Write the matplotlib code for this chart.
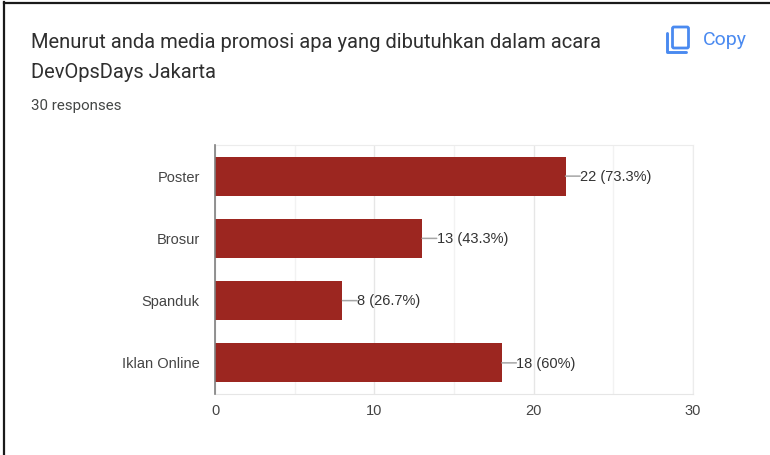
import matplotlib
matplotlib.use("Agg")
import matplotlib.pyplot as plt
from matplotlib.patches import FancyBboxPatch

categories = ["Poster", "Brosur", "Spanduk", "Iklan Online"]
counts = [22, 13, 8, 18]
value_labels = ["22 (73.3%)", "13 (43.3%)", "8 (26.7%)", "18 (60%)"]
major_ticks = [0, 10, 20, 30]
minor_ticks = [5, 15, 25]

W, H = 770, 455
fig = plt.figure(figsize=(W / 100, H / 100), dpi=100, facecolor="white")

# page layer in pixel coordinates: frame, title, copy icon
page = fig.add_axes([0, 0, 1, 1])
page.set_xlim(0, W)
page.set_ylim(H, 0)
page.axis("off")
page.plot([4, 4], [2, H], color="#1a1a1a", lw=1.6)
page.plot([4, W], [2.5, 2.5], color="#1a1a1a", lw=1.6)

title_col = "#2f2f2f"
page.text(31, 42.5, "Menurut anda media promosi apa yang dibutuhkan dalam acara",
          family="Roboto", fontsize=14.52, color=title_col, va="center", ha="left")
page.text(31, 72.5, "DevOpsDays Jakarta",
          family="Roboto", fontsize=14.52, color=title_col, va="center", ha="left")
page.text(31, 106, "30 responses", family="Roboto", fontsize=10.9,
          color="#444746", va="center", ha="left")

blue = "#4a8af0"
page.add_patch(FancyBboxPatch((672.5, 27), 16, 21, boxstyle="round,pad=0,rounding_size=1.5",
                              fc="white", ec=blue, lw=2))
page.plot([667, 667, 686], [33, 52, 52], color=blue, lw=2.1, solid_capstyle="round",
          solid_joinstyle="round")
page.text(703, 40, "Copy", family="Roboto", fontsize=14,
          color=blue, va="center", ha="left")

# chart
ax = fig.add_axes([215 / W, 1 - 394 / H, (693 - 215) / W, (394 - 145) / H])
ax.set_facecolor("none")
ypos = list(range(len(categories)))
ax.barh(ypos, counts, height=0.625, color="#9c2620", zorder=3)
ax.set_xlim(0, 30)
ax.set_ylim(len(categories) - 0.5, -0.5)

ax.set_xticks(major_ticks)
ax.set_xticks(minor_ticks, minor=True)
ax.grid(True, axis="x", which="major", color="#e6e6e6", lw=1, zorder=0)
ax.grid(True, axis="x", which="minor", color="#f2f2f2", lw=1, zorder=0)
ax.set_yticks(ypos)
ax.set_yticklabels(categories)
ax.tick_params(axis="both", which="both", length=0)
ax.tick_params(axis="x", pad=7.5, labelsize=10.5, labelcolor="#444444")
ax.tick_params(axis="y", pad=11, labelsize=10.5, labelcolor="#444444")
for lab in ax.get_xticklabels() + ax.get_yticklabels():
    lab.set_family("Liberation Sans")

for s in ["top", "right"]:
    ax.spines[s].set_color("#ececec")
ax.spines["bottom"].set_color("#e6e6e6")
ax.spines["left"].set_color("#7f7f7f")
ax.spines["left"].set_linewidth(1.2)
ax.spines["left"].set_zorder(5)

# leader line and label drawn apart so the line stays level
for y, v, txt in zip(ypos, counts, value_labels):
    ax.annotate("", xy=(v, y), xytext=(10.5, 0), textcoords="offset points", zorder=4,
                arrowprops=dict(arrowstyle="-", color="#a6a6a6", lw=1.1,
                                shrinkA=0, shrinkB=0))
    ax.annotate(txt, xy=(v, y), xytext=(10.5, -0.5), textcoords="offset points",
                va="center", ha="left", family="Liberation Sans", fontsize=10.5,
                color="#333333", zorder=6)

fig.savefig("out.png", dpi=100, facecolor="white")
